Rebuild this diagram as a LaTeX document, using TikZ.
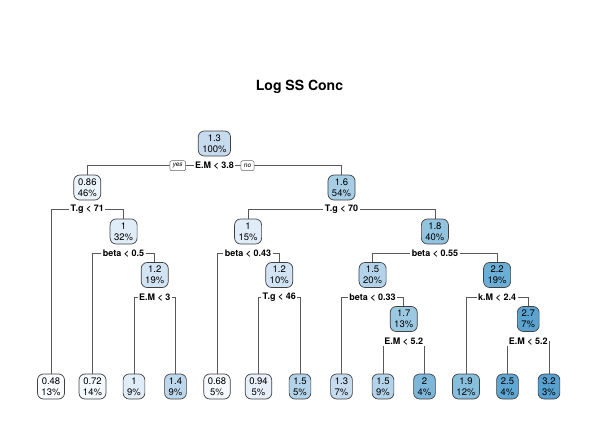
\documentclass[tikz,border=0pt]{standalone}
\usepackage{fontspec}
\setmainfont{TeX Gyre Heros}
\pgfdeclarelayer{bg}
\pgfsetlayers{bg,main}
\definecolor{c048}{HTML}{FAFCFF}
\definecolor{c068}{HTML}{F5F9FE}
\definecolor{c072}{HTML}{F3F8FD}
\definecolor{c086}{HTML}{EBF3FB}
\definecolor{c094}{HTML}{E7F0FA}
\definecolor{c100}{HTML}{E0ECF8}
\definecolor{c120}{HTML}{D2E3F3}
\definecolor{c130}{HTML}{C7DBEF}
\definecolor{c140}{HTML}{BDD7EC}
\definecolor{c150}{HTML}{B2D3E9}
\definecolor{c160}{HTML}{A7CEE5}
\definecolor{c170}{HTML}{9CC9E2}
\definecolor{c180}{HTML}{92C4DF}
\definecolor{c190}{HTML}{87BEDC}
\definecolor{c200}{HTML}{7DB8DA}
\definecolor{c220}{HTML}{6BAED6}
\definecolor{c250}{HTML}{60A7D3}
\definecolor{c270}{HTML}{5BA3D0}
\definecolor{c320}{HTML}{569FCE}
\begin{document}
\begin{tikzpicture}[x=1pt,y=-1pt,
  tn/.style={draw=black!75, line width=0.7pt, rounded corners=6pt, align=center,
    font=\fontsize{9.5}{11}\selectfont, inner xsep=4pt, inner ysep=2pt, minimum height=25pt},
  sl/.style={fill=white, font=\bfseries\fontsize{9}{10}\selectfont, inner xsep=1.5pt, inner ysep=1pt},
  yn/.style={draw=black!60, fill=white, line width=0.5pt, rounded corners=2pt,
    font=\itshape\fontsize{6.5}{7}\selectfont, inner xsep=3pt, inner ysep=1pt, minimum height=10pt},
  cn/.style={draw=black!65, line width=0.75pt}]
\useasboundingbox (0,0) rectangle (598,426);

\node[font=\bfseries\fontsize{14}{16}\selectfont] (title) at (299.5,87) {Log SS Conc};

% internal nodes
\node[tn, fill=c130] (n1)  at (214.4,143.5) {1.3\\100\%};
\node[tn, fill=c086] (n2)  at (87.3,187.5) {0.86\\46\%};
\node[tn, fill=c160] (n3)  at (341.5,187.5) {1.6\\54\%};
\node[tn, fill=c100] (n5)  at (123.6,231.5) {1\\32\%};
\node[tn, fill=c100] (n6)  at (248.1,231.5) {1\\15\%};
\node[tn, fill=c180] (n7)  at (434.9,231.5) {1.8\\40\%};
\node[tn, fill=c120] (n11) at (154.75,275) {1.2\\19\%};
\node[tn, fill=c120] (n13) at (279.25,275) {1.2\\10\%};
\node[tn, fill=c150] (n14) at (372.6,275) {1.5\\20\%};
\node[tn, fill=c220] (n15) at (497.1,275) {2.2\\19\%};
\node[tn, fill=c170] (n29) at (403.75,319) {1.7\\13\%};
\node[tn, fill=c270] (n31) at (528.25,319) {2.7\\7\%};

% leaves
\node[tn, fill=c048] (f0)  at (51,386.5)    {0.48\\13\%};
\node[tn, fill=c072] (f1)  at (92.5,386.5)  {0.72\\14\%};
\node[tn, fill=c100] (f2)  at (134,386.5)   {1\\9\%};
\node[tn, fill=c140] (f3)  at (175.5,386.5) {1.4\\9\%};
\node[tn, fill=c068] (f4)  at (217,386.5)   {0.68\\5\%};
\node[tn, fill=c094] (f5)  at (258.5,386.5) {0.94\\5\%};
\node[tn, fill=c150] (f6)  at (300,386.5)   {1.5\\5\%};
\node[tn, fill=c130] (f7)  at (341.5,386.5) {1.3\\7\%};
\node[tn, fill=c150] (f8)  at (383,386.5)   {1.5\\9\%};
\node[tn, fill=c200] (f9)  at (424.5,386.5) {2\\4\%};
\node[tn, fill=c190] (f10) at (466,386.5)   {1.9\\12\%};
\node[tn, fill=c250] (f11) at (507.5,386.5) {2.5\\4\%};
\node[tn, fill=c320] (f12) at (549,386.5)   {3.2\\3\%};

% split labels
\node[sl] (s1)  at (214.4,165.7) {E.M < 3.8};
\node[yn] (yes) at (177.8,165.7) {yes};
\node[yn] (no)  at (247.5,165.7) {no};
\node[sl] (s2)  at (87.3,209.5)  {T.g < 71};
\node[sl] (s3)  at (341.5,209.5) {T.g < 70};
\node[sl] (s5)  at (123.6,253.5) {beta < 0.5};
\node[sl] (s6)  at (248.1,253.5) {beta < 0.43};
\node[sl] (s7)  at (434.9,253.5) {beta < 0.55};
\node[sl] (s11) at (154.75,297.5) {E.M < 3};
\node[sl] (s13) at (279.25,297.5) {T.g < 46};
\node[sl] (s14) at (372.6,297.5) {beta < 0.33};
\node[sl] (s15) at (497.1,297.5) {k.M < 2.4};
\node[sl] (s29) at (403.75,341.5) {E.M < 5.2};
\node[sl] (s31) at (528.25,341.5) {E.M < 5.2};

\begin{pgfonlayer}{bg}
\draw[cn] (s1.center) -| (n2.north);
\draw[cn] (s1.center) -| (n3.north);
\draw[cn] (s2.center) -| (f0.north);
\draw[cn] (s2.center) -| (n5.north);
\draw[cn] (s5.center) -| (f1.north);
\draw[cn] (s5.center) -| (n11.north);
\draw[cn] (s11.center) -| (f2.north);
\draw[cn] (s11.center) -| (f3.north);
\draw[cn] (s3.center) -| (n6.north);
\draw[cn] (s3.center) -| (n7.north);
\draw[cn] (s6.center) -| (f4.north);
\draw[cn] (s6.center) -| (n13.north);
\draw[cn] (s13.center) -| (f5.north);
\draw[cn] (s13.center) -| (f6.north);
\draw[cn] (s7.center) -| (n14.north);
\draw[cn] (s7.center) -| (n15.north);
\draw[cn] (s14.center) -| (f7.north);
\draw[cn] (s14.center) -| (n29.north);
\draw[cn] (s29.center) -| (f8.north);
\draw[cn] (s29.center) -| (f9.north);
\draw[cn] (s15.center) -| (f10.north);
\draw[cn] (s15.center) -| (n31.north);
\draw[cn] (s31.center) -| (f11.north);
\draw[cn] (s31.center) -| (f12.north);
\end{pgfonlayer}
\end{tikzpicture}
\end{document}
